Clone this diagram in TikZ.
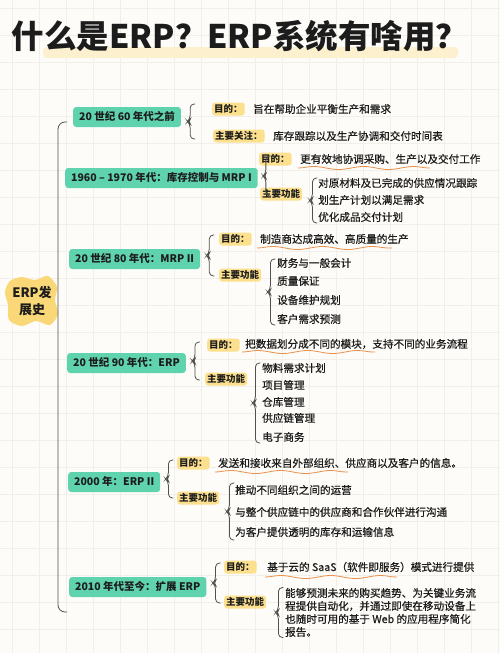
\documentclass[tikz,border=0pt]{standalone}
\usepackage{fontspec}
\setmainfont{Noto Sans CJK SC}
\newfontfamily\medio[FakeBold=0.6]{Noto Sans CJK SC}
\usetikzlibrary{calc,decorations.pathmorphing}

\definecolor{fondo}{HTML}{FDFCF8}
\definecolor{rejilla}{HTML}{F1EFE9}
\definecolor{verde}{HTML}{5FD3AE}
\definecolor{amarillo}{HTML}{FCE08E}
\definecolor{mancha}{HTML}{FAD878}
\definecolor{resalte}{HTML}{FCF0CF}
\definecolor{naranja}{HTML}{E8904C}
\definecolor{linea}{HTML}{505050}
\definecolor{tinta}{HTML}{1C1C1C}

\tikzset{
  era/.style={fill=verde, rounded corners=3pt, anchor=west, text=tinta,
    font=\bfseries\fontsize{10.5}{12}\selectfont, inner xsep=6pt, inner ysep=5pt,
    text height=8pt, text depth=2pt},
  tag/.style={fill=amarillo, rounded corners=3pt, anchor=west, text=tinta,
    font=\bfseries\fontsize{9.5}{11}\selectfont, inner xsep=2pt, inner ysep=2pt,
    text height=7.5pt, text depth=1.5pt},
  item/.style={anchor=west, inner sep=0pt, text=tinta, font=\medio\fontsize{10.6}{13}\selectfont},
  llavelinea/.style={draw=linea, line width=0.8pt, rounded corners=4pt},
  ola/.style={draw=naranja, line width=0.8pt, decorate,
    decoration={snake, segment length=50pt, amplitude=1.5pt}},
}

% llave: x de #1, de #2 a #3
\newcommand\llave[3]{%
  \draw[llavelinea] let \p1=(#1), \p2=(#2), \p3=(#3), \n1={(\y2+\y3)/2} in
    (\x1+5pt,\y2) -- (\x1,\y2) -- (\x1,\n1+2.5pt) -- (\x1-2.5pt,\n1)
    -- (\x1,\n1-2.5pt) -- (\x1,\y3) -- (\x1+5pt,\y3);}

\begin{document}
\begin{tikzpicture}[x=1pt, y=-1pt]
  % fondo con rejilla
  \fill[fondo] (0,0) rectangle (500,653);
  \useasboundingbox (0,0) rectangle (500,653);
  \foreach \x in {12,39,...,500} { \draw[rejilla, line width=0.6pt] (\x,0) -- (\x,653); }
  \foreach \y in {8,35,...,653} { \draw[rejilla, line width=0.6pt] (0,\y) -- (500,\y); }

  % titulo
  \fill[resalte, rounded corners=4pt] (43,47) rectangle (458,58);
  \node[text=tinta, font=\bfseries\fontsize{32.5}{37}\selectfont] (titulo) at (240,36) {什么是ERP？ERP系统有啥用？};

  % raiz y lomo
  \fill[mancha] plot[smooth cycle] coordinates {(10,281) (22,277) (35,280) (48,276) (57,287)
    (55,300) (58,314) (50,325) (36,321) (22,326) (9,320) (8,305) (5,292)};
  \node[text=tinta, align=center, font=\bfseries\fontsize{13}{17}\selectfont] (raiz) at (32,301) {ERP发\\展史};
  \coordinate (lomo1) at (58,122);
  \coordinate (lomo2) at (58,612);
  \draw[llavelinea, rounded corners=7pt] ([xshift=9pt]lomo1) -- (lomo1) -- (lomo2) -- ([xshift=9pt]lomo2);

  % 20 世纪 60 年代之前
  \node[era] (e1) at (73,117) {20 世纪 60 年代之前};
  \node[tag] (e1m) at (212,109) {目的：};
  \node[item] (e1mt) at (253,109) {旨在帮助企业平衡生产和需求};
  \node[tag] (e1g) at (213,136) {主要关注：};
  \node[item] (e1gt) at (273,136) {库存跟踪以及生产协调和交付时间表};
  \llave{[xshift=9pt]e1.east}{[yshift=5pt]e1m.center}{[yshift=-3pt]e1g.center}

  % 1960 - 1970
  \node[era] (e2) at (65,178) {1960 – 1970 年代：库存控制与 MRP I};
  \node[tag] (e2m) at (259,159) {目的：};
  \node[item] (e2mt) at (300,159) {更有效地协调采购、生产以及交付工作};
  \draw[ola] (298,168) -- (430,168);
  \node[tag] (e2f) at (260,194) {主要功能};
  \node[item] (e2a) at (318,183) {对原材料及已完成的供应情况跟踪};
  \node[item] (e2b) at (318,200) {划生产计划以满足需求};
  \node[item] (e2c) at (318,217) {优化成品交付计划};
  \llave{[xshift=8pt]e2.east}{[yshift=3pt]e2m.center}{[yshift=-2pt]e2f.center}
  \llave{[xshift=10pt]e2f.east}{[yshift=5pt]e2a.center}{[yshift=-6pt]e2c.center}

  % 80 年代
  \node[era] (e3) at (69,259) {20 世纪 80 年代：MRP II};
  \node[tag] (e3m) at (219,239) {目的：};
  \node[item] (e3mt) at (260,239) {制造商达成高效、高质量的生产};
  \draw[ola] (257,248) -- (392,248);
  \node[tag] (e3f) at (219,275) {主要功能};
  \node[item] (e3a) at (277,263) {财务与一般会计};
  \node[item] (e3b) at (277,281) {质量保证};
  \node[item] (e3c) at (277,300) {设备维护规划};
  \node[item] (e3d) at (277,319) {客户需求预测};
  \llave{[xshift=9pt]e3.east}{[yshift=4pt]e3m.center}{[yshift=-1pt]e3f.center}
  \llave{[xshift=9pt]e3f.east}{[yshift=4pt]e3a.center}{[yshift=-6pt]e3d.center}

  % 90 年代
  \node[era] (e4) at (67,363) {20 世纪 90 年代：ERP};
  \node[tag] (e4m) at (207,345) {目的：};
  \node[item] (e4mt) at (245,344) {把数据划分成不同的模块，支持不同的业务流程};
  \draw[ola] (242,352) -- (375,352);
  \node[tag] (e4f) at (205,379) {主要功能};
  \node[item] (e4a) at (262,368) {物料需求计划};
  \node[item] (e4b) at (262,385) {项目管理};
  \node[item] (e4c) at (262,402) {仓库管理};
  \node[item] (e4d) at (262,418) {供应链管理};
  \node[item] (e4e) at (262,437) {电子商务};
  \llave{[xshift=9pt]e4.east}{[yshift=3pt]e4m.center}{[yshift=-1pt]e4f.center}
  \llave{[xshift=8pt]e4f.east}{[yshift=5pt]e4a.center}{[yshift=-6pt]e4e.center}

  % 2000
  \node[era] (e5) at (68,482) {2000 年：ERP II};
  \node[tag] (e5m) at (177,463) {目的：};
  \node[item] (e5mt) at (218,463) {发送和接收来自外部组织、供应商以及客户的信息。};
  \draw[ola] (215,472) -- (348,472);
  \node[tag] (e5f) at (177,498) {主要功能};
  \node[item] (e5a) at (235,490) {推动不同组织之间的运营};
  \node[item] (e5b) at (235,512) {与整个供应链中的供应商和合作伙伴进行沟通};
  \node[item] (e5c) at (235,532) {为客户提供透明的库存和运输信息};
  \llave{[xshift=8pt]e5.east}{[yshift=3pt]e5m.center}{[yshift=0pt]e5f.center}
  \llave{[xshift=10pt]e5f.east}{[yshift=7pt]e5a.center}{[yshift=-8pt]e5c.center}

  % 2010 至今
  \node[era] (e6) at (69,587) {2010 年代至今：扩展 ERP};
  \node[tag] (e6m) at (224,567) {目的：};
  \node[item] (e6mt) at (267,567) {基于云的 SaaS（软件即服务）模式进行提供};
  \draw[ola] (265,577) -- (397,577);
  \node[tag] (e6f) at (224,602) {主要功能};
  \node[item, align=left] (e6a) at (285,612.5) {能够预测未来的购买趋势、为关键业务流\\程提供自动化，并通过即使在移动设备上\\也随时可用的基于 Web 的应用程序简化\\报告。};
  \llave{[xshift=9pt]e6.east}{[yshift=4pt]e6m.center}{[yshift=-1pt]e6f.center}
  \llave{[xshift=12pt]e6f.east}{[yshift=25pt]e6a.center}{[yshift=-25pt]e6a.center}
\end{tikzpicture}
\end{document}
